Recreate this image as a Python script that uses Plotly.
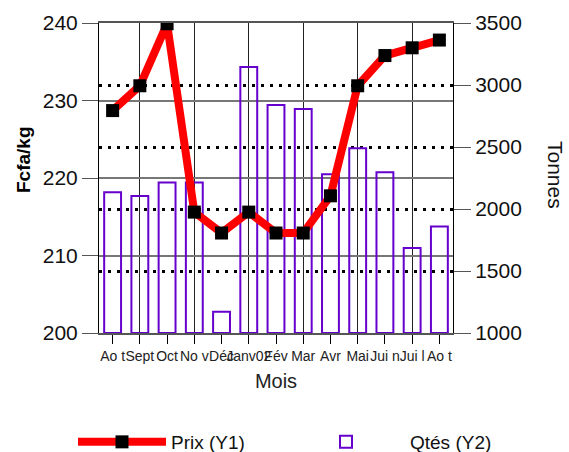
import plotly.graph_objects as go

mois = ["Ao t", "Sept", "Oct", "No v", "Déc", "Janv02", "Fév", "Mar", "Avr", "Mai", "Jui n", "Jui l", "Ao t"]
prix = [228.7, 231.9, 239.9, 215.6, 212.9, 215.6, 212.9, 212.9, 217.7, 231.9, 235.8, 236.8, 237.8]
qtes = [2135, 2104, 2214, 2214, 1171, 3145, 2839, 2806, 2280, 2489, 2296, 1685, 1858]

idx = list(range(len(mois)))
base_q = 1000

FONT = "Liberation Sans, Arial, sans-serif"

fig = go.Figure()

fig.add_trace(go.Bar(
    x=idx, y=[q - base_q for q in qtes], base=base_q,
    name="Qtés (Y2)", width=0.62, legend="legend2", showlegend=True,
    marker=dict(color="rgba(0,0,0,0)", line=dict(color="#6600CC", width=2)),
    xaxis="x", yaxis="y",
))
fig.add_trace(go.Scatter(
    x=idx, y=prix, name="Prix (Y1)", mode="lines+markers", legend="legend", showlegend=True,
    line=dict(color="#FF0000", width=8),
    marker=dict(symbol="square", size=13, color="black"),
    xaxis="x2", yaxis="y2",
))

PW, PH, L, T = 354, 310, 99, 23

fig.update_layout(
    width=569, height=452, showlegend=True,
    margin=dict(l=L, r=116, t=T, b=119, autoexpand=False),
    paper_bgcolor="white", plot_bgcolor="white",
    font=dict(family=FONT, color="black"),
    xaxis=dict(
        range=[-0.5, len(mois) - 0.5], tickvals=idx, ticktext=mois, tickangle=0,
        automargin=False,
        showgrid=False, showline=True, linecolor="#555", linewidth=1.5, mirror=True,
        ticks="outside", ticklen=9, tickcolor="black",
        tickfont=dict(size=14, color="#222"),
        title=dict(text="Mois", font=dict(size=20, color="#222"), standoff=11),
        zeroline=False,
    ),
    xaxis2=dict(
        overlaying="x", matches="x", tickvals=idx[1::2], showticklabels=False,
        automargin=False,
        showgrid=True, gridcolor="#222", gridwidth=1, ticks="", zeroline=False,
    ),
    yaxis=dict(
        side="right", range=[1000, 3500], tickvals=[1000, 1500, 2000, 2500, 3000, 3500],
        automargin=False,
        showgrid=True, gridcolor="black", gridwidth=2.5, griddash="3px,6px",
        showline=True, linecolor="black", linewidth=1,
        ticks="outside", ticklen=17, tickcolor="#555",
        tickfont=dict(size=21, color="#111"), zeroline=False,
    ),
    yaxis2=dict(
        side="left", overlaying="y", range=[200, 240], tickvals=[200, 210, 220, 230, 240],
        automargin=False,
        showgrid=True, gridcolor="#777", gridwidth=1.5,
        showline=True, linecolor="black", linewidth=1,
        ticks="outside", ticklen=16, tickcolor="#555",
        tickfont=dict(size=21, color="#111"), zeroline=False,
    ),
    legend=dict(
        orientation="h", x=(73 - L) / PW, xanchor="left", y=(T + PH - 442) / PH, yanchor="middle",
        font=dict(size=19, color="#111"), itemwidth=88, bgcolor="rgba(0,0,0,0)",
    ),
    legend2=dict(
        orientation="h", x=(282 - L) / PW, xanchor="left", y=(T + PH - 442) / PH, yanchor="middle",
        font=dict(size=19, color="#111"), itemwidth=118, bgcolor="rgba(0,0,0,0)",
    ),
    annotations=[
        dict(text="<b>Fcfa/kg</b>", textangle=-90, xref="paper", yref="paper",
             x=(23 - L) / PW, y=(T + PH - 160) / PH, xanchor="center", yanchor="middle",
             showarrow=False, font=dict(size=19, color="black")),
        dict(text="Tonnes", textangle=90, xref="paper", yref="paper",
             x=1 + (556 - 453) / PW, y=(T + PH - 175) / PH, xanchor="center", yanchor="middle",
             showarrow=False, font=dict(size=21, color="#111")),
        dict(text="<b>Evolution des cours en Fcfa/kg et des Qtés reçues</b>",
             xref="paper", yref="paper", x=(285 - L) / PW, y=1 + (T - 3) / PH,
             xanchor="center", yanchor="bottom", showarrow=False,
             font=dict(size=17, color="black")),
    ],
)

fig.write_html("out.html", config={"displayModeBar": False},
               post_script="document.body.style.margin='0';document.body.style.padding='0';")
